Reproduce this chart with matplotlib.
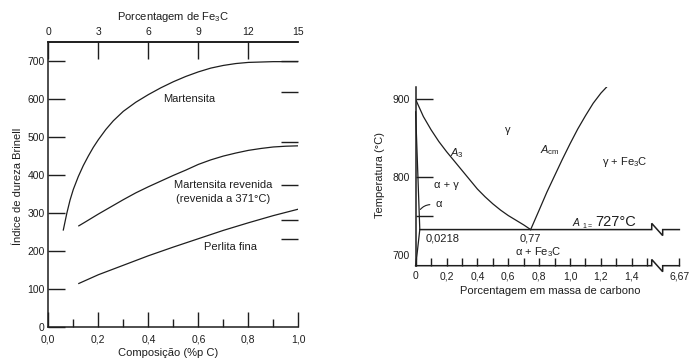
#!/usr/bin/env python3

import numpy as np
import matplotlib
matplotlib.use('Agg')
import matplotlib.pyplot as plt

plt.rcParams['font.family'] = ['Liberation Sans', 'DejaVu Sans']
plt.rcParams['mathtext.fontset'] = 'custom'
plt.rcParams['mathtext.rm'] = 'Liberation Sans'
plt.rcParams['mathtext.it'] = 'Liberation Sans:italic'

INK = '#1e1e1e'

# --- left chart: Brinell hardness vs carbon content ---
comp_mart = [0.060, 0.074, 0.087, 0.100, 0.120, 0.140, 0.160, 0.180, 0.200,
             0.230, 0.260, 0.300, 0.350, 0.400, 0.450, 0.500, 0.550, 0.600,
             0.650, 0.700, 0.750, 0.800, 0.900, 1.000]
hb_mart = [255, 299, 334, 362, 396, 425, 450, 473, 493,
           520, 543, 568, 592, 612, 630, 646, 660, 672,
           682, 689, 694, 697, 699, 699]

comp_rev = [0.122, 0.15, 0.20, 0.25, 0.30, 0.35, 0.40, 0.45, 0.50, 0.55,
            0.60, 0.65, 0.70, 0.75, 0.80, 0.85, 0.90, 0.95, 1.0]
hb_rev = [266, 277, 297, 316, 335, 353, 369, 384, 399, 413,
          428, 440, 450, 458, 465, 470, 474, 476, 477]

comp_perl = [0.122, 0.2, 0.3, 0.4, 0.5, 0.6, 0.7, 0.8, 0.9, 1.0]
hb_perl = [114, 137, 162, 187, 210, 232, 254, 274, 293, 310]

hb_ticks = [0, 100, 200, 300, 400, 500, 600, 700]
comp_ticks = [0.0, 0.2, 0.4, 0.6, 0.8, 1.0]
comp_labels = ['0,0', '0,2', '0,4', '0,6', '0,8', '1,0']
fe3c_ticks = [0, 3, 6, 9, 12, 15]
right_marks = [702, 620, 486, 374, 282, 231]

# --- right chart: Fe-C diagram near the eutectoid ---
a3_c = [0.0, 0.05, 0.1, 0.15, 0.2, 0.25, 0.3, 0.35, 0.4, 0.45, 0.5, 0.55,
        0.6, 0.65, 0.7, 0.745]
a3_t = [900, 878, 861, 846, 833, 821, 809, 797, 785, 775, 766, 758,
        751, 745, 739, 733]
acm_c = [0.745, 0.8, 0.85, 0.9, 0.95, 1.0, 1.05, 1.1, 1.15, 1.2, 1.238]
acm_t = [733, 758, 781, 802, 823, 843, 862, 879, 895, 908, 916]
alpha_c = [0.0, 0.027, 0.001]
alpha_t = [884, 733, 687]
eutectoid_t = 733
carb_ticks = [0.0, 0.2, 0.4, 0.6, 0.8, 1.0, 1.2, 1.4]
carb_labels = ['0', '0,2', '0,4', '0,6', '0,8', '1,0', '1,2', '1,4']
temp_ticks = [700, 750, 800, 900]
temp_labels = ['700', '', '800', '900']

x_end = 1.708          # drawn position of 6,67 after the axis break
brk0, brk1 = 1.529, 1.600

fig = plt.figure(figsize=(6.99, 3.61), dpi=100)

# ---------------- left ----------------
ax = fig.add_axes([0.0691, 0.0950, 0.3577, 0.7878])
ax.plot(comp_mart, hb_mart, color=INK, lw=0.9)
ax.plot(comp_rev, hb_rev, color=INK, lw=0.9)
ax.plot(comp_perl, hb_perl, color=INK, lw=0.9)
ax.set_xlim(0, 1.0)
ax.set_ylim(0, 750)
ax.spines['right'].set_visible(False)
for s in ['left', 'bottom', 'top']:
  ax.spines[s].set_linewidth(1.1)
  ax.spines[s].set_color(INK)

ax.set_yticks(hb_ticks)
ax.set_xticks(comp_ticks, comp_labels)
ax.set_xticks(np.arange(0.1, 1.0, 0.2), minor=True)
ax.tick_params(axis='y', direction='in', length=12, width=1, labelsize=7.5,
               pad=2.5, colors=INK)
ax.tick_params(axis='x', which='major', direction='in', length=11, width=1,
               labelsize=7.5, pad=5.5, colors=INK)
ax.tick_params(axis='x', which='minor', direction='in', length=6, width=1,
               colors=INK)

top = ax.secondary_xaxis('top', functions=(lambda x: x * 15, lambda x: x / 15))
top.set_xticks(fe3c_ticks)
top.tick_params(direction='in', length=12, width=1, labelsize=7.5, pad=4,
                colors=INK)
top.spines['top'].set_linewidth(1.1)
last = top.xaxis.get_major_ticks()[-1]
last.tick1line.set_visible(False)
last.tick2line.set_visible(False)

side = ax.secondary_yaxis('right')
side.set_yticks(right_marks)
side.tick_params(direction='in', length=12, width=1, labelright=False,
                 colors=INK)
for s in side.spines.values():
  s.set_visible(False)

ax.text(0.563, 600, 'Martensita', ha='center', va='center', fontsize=8,
        color=INK)
ax.text(0.698, 374, 'Martensita revenida', ha='center', va='center',
        fontsize=8, color=INK)
ax.text(0.698, 336, '(revenida a 371°C)', ha='center', va='center',
        fontsize=8, color=INK)
ax.text(0.727, 209, 'Perlita fina', ha='center', va='center', fontsize=8,
        color=INK)

fig.text(0.2475, 0.9537, 'Porcentagem de Fe$_3$C', ha='center', va='center',
         fontsize=8, color=INK)
fig.text(0.2403, 0.0230, 'Composição (%p C)', ha='center', va='center',
         fontsize=8, color=INK)
fig.text(0.0262, 0.4848, 'Índice de dureza Brinell', ha='center',
         va='center', rotation=90, fontsize=8, color=INK)

# ---------------- right ----------------
bx = fig.add_axes([0.5946, 0.2640, 0.3773, 0.4958])
bx.set_xlim(0, x_end)
bx.set_ylim(686.7, 916.2)
for s in ['top', 'right', 'bottom']:
  bx.spines[s].set_visible(False)
bx.spines['left'].set_linewidth(1.1)
bx.spines['left'].set_color(INK)

bx.plot(a3_c, a3_t, color=INK, lw=0.9)
bx.plot(acm_c, acm_t, color=INK, lw=0.9)
bx.plot(alpha_c, alpha_t, color=INK, lw=0.9, clip_on=False)

# eutectoid line and bottom axis, both broken before 6,67
ylo = bx.get_ylim()[0]
for yy in [eutectoid_t, ylo]:
  x0 = 0.027 if yy == eutectoid_t else 0.0
  bx.plot([x0, brk0, brk0, brk1, brk1, x_end],
          [yy, yy, yy + 8, yy - 7.7, yy, yy],
          color=INK, lw=1.1, clip_on=False, solid_joinstyle='miter')

bx.set_xticks(carb_ticks + [x_end], carb_labels + ['6,67'])
bx.set_xticks(np.arange(0.1, 1.6, 0.2), minor=True)
bx.tick_params(axis='x', which='both', direction='in', length=6, width=1,
               labelsize=7.5, pad=4, colors=INK)
bx.set_yticks(temp_ticks, temp_labels)
bx.tick_params(axis='y', direction='in', length=12, width=1, labelsize=7.5,
               pad=4, colors=INK)
bx.yaxis.get_major_ticks()[0].tick1line.set_visible(False)

tk = dict(color=INK, fontsize=8)
bx.text(0.60, 861, 'γ', ha='center', va='center', **tk)
bx.text(0.266, 831, '$A_3$', ha='center', va='center', **tk)
bx.text(0.87, 835, r'$A_{\mathrm{cm}}$', ha='center', va='center', **tk)
bx.text(1.356, 820, 'γ + Fe$_3$C', ha='center', va='center', **tk)
bx.text(0.20, 790, 'α + γ', ha='center', va='center', **tk)
bx.text(0.15, 766, 'α', ha='center', va='center', **tk)
bx.annotate('', xy=(0.02, 756), xytext=(0.11, 765),
            arrowprops=dict(arrowstyle='-', color=INK, lw=0.8,
                            connectionstyle='arc3,rad=0.3'))
bx.text(0.176, 722, '0,0218', ha='center', va='center', **tk)
bx.text(0.741, 722, '0,77', ha='center', va='center', **tk)
bx.text(0.795, 704.6, 'α + Fe$_3$C', ha='center', va='center', **tk)

bx.text(1.019, 737.6, 'A', style='italic', ha='left', va='baseline',
        color=INK, fontsize=7.5)
bx.text(1.078, 735.2, '1', ha='left', va='baseline', color=INK, fontsize=5)
bx.text(1.112, 735.2, '=', ha='left', va='baseline', color=INK, fontsize=5)
bx.text(1.162, 737.6, '727°C', ha='left', va='baseline', color=INK,
        fontsize=10.5)

fig.text(0.7878, 0.1947, 'Porcentagem em massa de carbono', ha='center',
         va='center', fontsize=8, color=INK)
fig.text(0.5436, 0.5152, 'Temperatura (°C)', ha='center', va='center',
         rotation=90, fontsize=8, color=INK)

fig.savefig('out.png', dpi=100)
